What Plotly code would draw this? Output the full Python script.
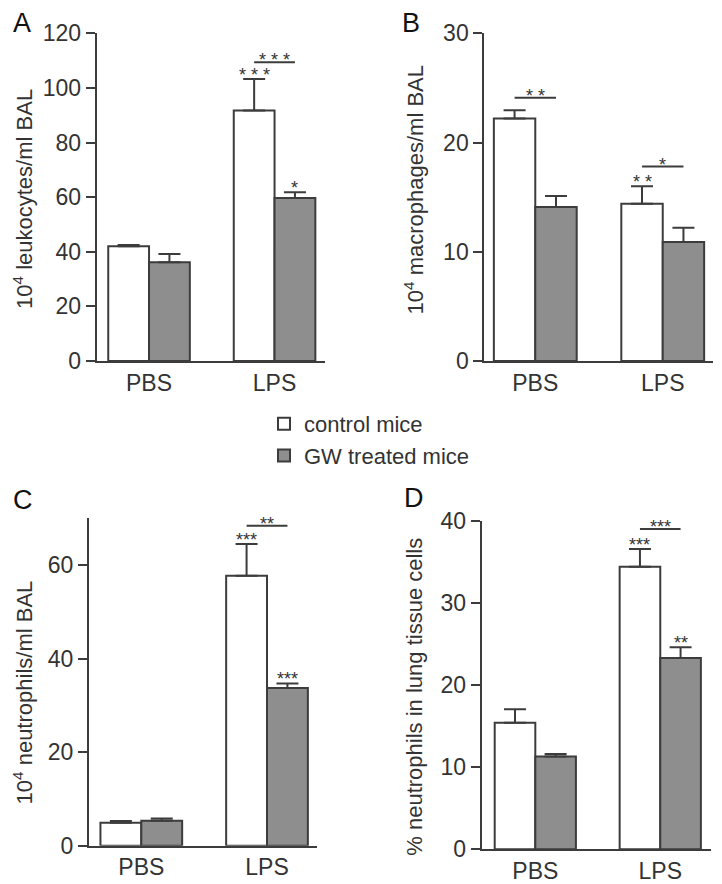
import plotly.graph_objects as go

# ---------------- data ----------------
categories = ["PBS", "LPS"]
series_names = ["control mice", "GW treated mice"]

a_control = [42.0, 91.7]
a_control_err = [0.5, 11.6]
a_gw = [36.2, 59.7]
a_gw_err = [3.0, 2.1]

b_control = [22.2, 14.4]
b_control_err = [0.75, 1.6]
b_gw = [14.1, 10.9]
b_gw_err = [1.0, 1.3]

c_control = [4.9, 57.7]
c_control_err = [0.4, 6.8]
c_gw = [5.35, 33.7]
c_gw_err = [0.45, 1.0]

d_control = [15.4, 34.4]
d_control_err = [1.65, 2.15]
d_gw = [11.3, 23.3]
d_gw_err = [0.3, 1.3]

a_ticks = [0, 20, 40, 60, 80, 100, 120]
b_ticks = [0, 10, 20, 30]
c_ticks = [0, 20, 40, 60]
d_ticks = [0, 10, 20, 30, 40]

# significance above single bars: (category index, series index, label)
a_stars = [(1, 0, "* * *"), (1, 1, "*")]
b_stars = [(1, 0, "* *")]
c_stars = [(1, 0, "***"), (1, 1, "***")]
d_stars = [(1, 0, "***"), (1, 1, "**")]
# brackets between control and GW: (category index, y value, label)
a_brackets = [(1, 109.4, "* * *")]
b_brackets = [(0, 24.1, "* *"), (1, 17.8, "*")]
c_brackets = [(1, 68.4, "**")]
d_brackets = [(1, 39.0, "***")]

# ---------------- styling ----------------
OFF = 8                      # default page body margin
FW, FH = 714, 876
FONT = "Liberation Sans, Arial, sans-serif"
TXT = "#333333"
LINE = "#3c3c3c"
GRAY = "#8e8e8e"
BARGAP = 0.35
BW = (1 - BARGAP) / 2


def fx(px):
    return (px - OFF) / FW


def fy(py):
    return 1 - (py - OFF) / FH


panels = [
    dict(letter="A", title="10<sup>4</sup> leukocytes/ml BAL",
         ctrl=a_control, ctrl_err=a_control_err, gw=a_gw, gw_err=a_gw_err,
         ticks=a_ticks, yr=(0, 120), xdom=(96.7, 325), ydom=(33.3, 361), xr=(-0.417, 1.402),
         letter_pos=(22, 23.5), title_pos=(23, 199), stars=a_stars, brackets=a_brackets),
    dict(letter="B", title="10<sup>4</sup> macrophages/ml BAL",
         ctrl=b_control, ctrl_err=b_control_err, gw=b_gw, gw_err=b_gw_err,
         ticks=b_ticks, yr=(0, 30), xdom=(484.3, 712.7), ydom=(33.3, 361), xr=(-0.400, 1.392),
         letter_pos=(410.5, 23.5), title_pos=(413.5, 190), stars=b_stars, brackets=b_brackets),
    dict(letter="C", title="10<sup>4</sup> neutrophils/ml BAL",
         ctrl=c_control, ctrl_err=c_control_err, gw=c_gw, gw_err=c_gw_err,
         ticks=c_ticks, yr=(0, 70), xdom=(89, 317.3), ydom=(518.3, 845.7), xr=(-0.416, 1.400),
         letter_pos=(23, 500), title_pos=(22.5, 693), stars=c_stars, brackets=c_brackets),
    dict(letter="D", title="% neutrophils in lung tissue cells",
         ctrl=d_control, ctrl_err=d_control_err, gw=d_gw, gw_err=d_gw_err,
         ticks=d_ticks, yr=(0, 40), xdom=(481.7, 711), ydom=(520.7, 849.3), xr=(-0.429, 1.406),
         letter_pos=(413.5, 498.5), title_pos=(415, 696.7), stars=d_stars, brackets=d_brackets),
]

fig = go.Figure()
annotations = []
shapes = []

for i, p in enumerate(panels):
    n = "" if i == 0 else str(i + 1)
    xa, ya = "x" + n, "y" + n
    for s, (vals, errs, fill) in enumerate([(p["ctrl"], p["ctrl_err"], "white"),
                                             (p["gw"], p["gw_err"], GRAY)]):
        fig.add_trace(go.Bar(
            x=categories, y=vals, name=series_names[s],
            xaxis=xa, yaxis=ya, showlegend=(i == 0),
            marker=dict(color=fill, line=dict(color=LINE, width=2)),
            error_y=dict(type="data", symmetric=False, array=errs,
                         arrayminus=[0] * len(errs), color=LINE, thickness=2, width=11),
        ))
    layout_x = dict(domain=[fx(p["xdom"][0]), fx(p["xdom"][1])], range=list(p["xr"]),
                    anchor=ya, showline=True, linecolor=LINE, linewidth=2, ticks="",
                    showgrid=False, zeroline=False, fixedrange=True, automargin=False,
                    tickfont=dict(family=FONT, size=23, color=TXT))
    layout_y = dict(domain=[fy(p["ydom"][1]), fy(p["ydom"][0])], range=list(p["yr"]),
                    anchor=xa, showline=True, linecolor=LINE, linewidth=2,
                    ticks="outside", ticklen=9, tickwidth=2, tickcolor=LINE,
                    tickvals=p["ticks"], showgrid=False, zeroline=False, fixedrange=True,
                    automargin=False,
                    tickfont=dict(family=FONT, size=23, color=TXT))
    fig.update_layout(**{"xaxis" + n: layout_x, "yaxis" + n: layout_y})

    # panel letter
    annotations.append(dict(text=p["letter"], x=fx(p["letter_pos"][0]), y=fy(p["letter_pos"][1]),
                            xref="paper", yref="paper", showarrow=False,
                            xanchor="center", yanchor="middle", borderpad=0,
                            font=dict(family=FONT, size=27, color="#111111")))
    # y title
    annotations.append(dict(text=p["title"], x=fx(p["title_pos"][0]), y=fy(p["title_pos"][1]),
                            xref="paper", yref="paper", showarrow=False, textangle=-90,
                            xanchor="center", yanchor="middle",
                            font=dict(family=FONT, size=22, color=TXT)))
    # stars above bars
    for (ci, si, lab) in p["stars"]:
        vals = p["ctrl"] if si == 0 else p["gw"]
        errs = p["ctrl_err"] if si == 0 else p["gw_err"]
        xpos = ci - BW / 2 if si == 0 else ci + BW / 2
        annotations.append(dict(text=lab, x=xpos, y=vals[ci] + errs[ci], xref=xa, yref=ya,
                                showarrow=False, xanchor="center", yanchor="middle", yshift=4,
                                font=dict(family=FONT, size=18, color=TXT)))
    # brackets
    for (ci, yv, lab) in p["brackets"]:
        shapes.append(dict(type="line", xref=xa, yref=ya, x0=ci - BW / 2, x1=ci + BW / 2,
                           y0=yv, y1=yv, line=dict(color=LINE, width=2)))
        annotations.append(dict(text=lab, x=ci, y=yv, xref=xa, yref=ya,
                                showarrow=False, xanchor="center", yanchor="middle", yshift=2,
                                font=dict(family=FONT, size=18, color=TXT)))

fig.update_layout(
    template="none",
    width=FW, height=FH, margin=dict(l=0, r=0, t=0, b=0, pad=0, autoexpand=False),
    paper_bgcolor="white", plot_bgcolor="white",
    barmode="group", bargap=BARGAP, bargroupgap=0,
    annotations=annotations, shapes=shapes,
    showlegend=True,
    legend=dict(x=fx(264), y=fy(403), xanchor="left", yanchor="top",
                font=dict(family=FONT, size=22, color=TXT), bgcolor="rgba(0,0,0,0)",
                borderwidth=0, tracegroupgap=0),
    font=dict(family=FONT, color=TXT),
)

fig.write_html("out.html")
